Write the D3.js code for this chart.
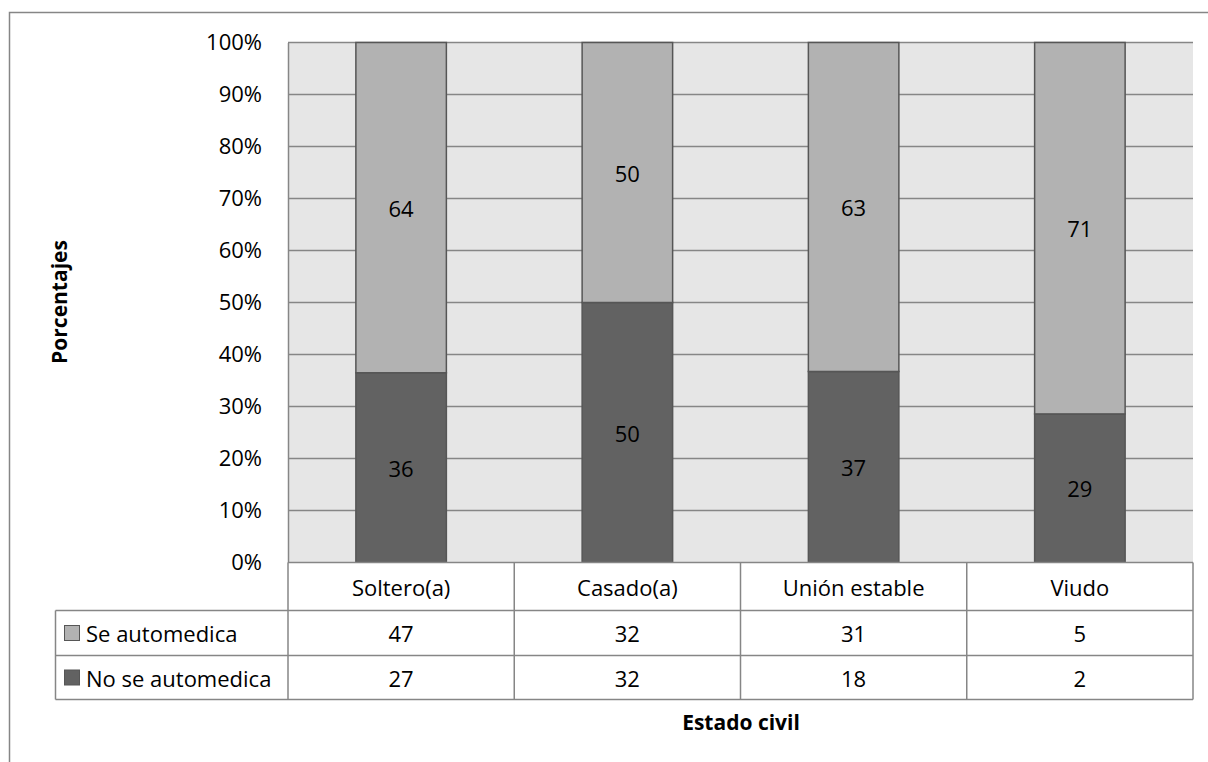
<!DOCTYPE html>
<html>
<head>
<meta charset="utf-8">
<script src="https://cdn.jsdelivr.net/npm/d3@7"></script>
<style>
  html, body { margin: 0; padding: 0; background: #fff; }
  svg { display: block; }
  text { font-family: "Open Sans", "Noto Sans", sans-serif; fill: #000; }
</style>
</head>
<body>
<svg id="chart" width="1208" height="762"></svg>
<script>
const categories = ["Soltero(a)", "Casado(a)", "Unión estable", "Viudo"];
const seriesNames = ["Se automedica", "No se automedica"];
const seAutomedica = [47, 32, 31, 5];
const noSeAutomedica = [27, 32, 18, 2];
const yTicks = [0, 10, 20, 30, 40, 50, 60, 70, 80, 90, 100];
const colors = ["#b2b2b2", "#626262"];

const svg = d3.select("#chart");
const plot = { left: 288, right: 1193, top: 42.5, bottom: 562.5 };
const rowH = [48, 45, 44];
const FS = "22px";

// outer chart border (extends beyond view)
svg.append("rect").attr("x", 9.5).attr("y", 12.5).attr("width", 1300).attr("height", 900)
  .attr("fill", "#fff").attr("stroke", "#868686").attr("stroke-width", 1.5);

const x = d3.scaleBand().domain(categories).range([plot.left, plot.right]).paddingInner(0.6).paddingOuter(0.3);
const xCell = d3.scaleBand().domain(categories).range([plot.left, plot.right]);
const y = d3.scaleLinear().domain([0, 100]).range([plot.bottom, plot.top]);

// plot background
svg.append("rect").attr("x", plot.left).attr("y", plot.top)
  .attr("width", plot.right - plot.left).attr("height", plot.bottom - plot.top)
  .attr("fill", "#e6e6e6");

// gridlines
svg.append("g").selectAll("line").data(yTicks.filter(d => d > 0)).join("line")
  .attr("x1", plot.left).attr("x2", plot.right)
  .attr("y1", d => y(d)).attr("y2", d => y(d))
  .attr("stroke", "#868686").attr("stroke-width", 1.5);

// y axis labels
const yAxis = d3.axisLeft(y).tickValues(yTicks).tickFormat(d => d + "%").tickSize(0).tickPadding(26);
const ya = svg.append("g").attr("transform", `translate(${plot.left},0)`).call(yAxis);
ya.select(".domain").attr("stroke", "#868686").attr("stroke-width", 1.5);
ya.selectAll("text").style("font-family", '"Open Sans", sans-serif').style("font-size", FS).attr("fill", "#000");

// stacked data (percent)
const rows = categories.map((c, i) => {
  const tot = seAutomedica[i] + noSeAutomedica[i];
  return { cat: c, no: noSeAutomedica[i] / tot * 100, se: seAutomedica[i] / tot * 100 };
});
const stack = d3.stack().keys(["no", "se"])(rows);
const keyColor = { no: colors[1], se: colors[0] };

const bars = svg.append("g");
stack.forEach(layer => {
  bars.append("g").selectAll("rect").data(layer).join("rect")
    .attr("x", d => x(d.data.cat))
    .attr("width", x.bandwidth())
    .attr("y", d => y(d[1]))
    .attr("height", d => y(d[0]) - y(d[1]))
    .attr("fill", keyColor[layer.key])
    .attr("stroke", "#565656").attr("stroke-width", 1.5);
  bars.append("g").selectAll("text").data(layer).join("text")
    .attr("x", d => x(d.data.cat) + x.bandwidth() / 2)
    .attr("y", d => (y(d[0]) + y(d[1])) / 2)
    .attr("text-anchor", "middle").attr("dominant-baseline", "central")
    .style("font-size", FS)
    .text(d => Math.round(d[1] - d[0]));
});

// data table
const tableLeft = 55.5;
const y0 = plot.bottom, y1 = y0 + rowH[0], y2 = y1 + rowH[1], y3 = y2 + rowH[2];
const tg = svg.append("g");
const lineC = "#868686";
categories.forEach(c => {
  tg.append("rect").attr("x", xCell(c)).attr("y", y0).attr("width", xCell.bandwidth()).attr("height", y3 - y0)
    .attr("fill", "#fff").attr("stroke", "none");
});
[y0, y1, y2, y3].forEach((yy, i) => {
  tg.append("line").attr("x1", i === 0 ? plot.left : tableLeft).attr("x2", plot.right)
    .attr("y1", yy).attr("y2", yy).attr("stroke", lineC).attr("stroke-width", 1.5);
});
tg.append("line").attr("x1", tableLeft).attr("x2", tableLeft).attr("y1", y1).attr("y2", y3)
  .attr("stroke", lineC).attr("stroke-width", 1.5);
categories.forEach(c => {
  tg.append("line").attr("x1", xCell(c)).attr("x2", xCell(c)).attr("y1", y0).attr("y2", y3)
    .attr("stroke", lineC).attr("stroke-width", 1.5);
});
tg.append("line").attr("x1", plot.right).attr("x2", plot.right).attr("y1", y0).attr("y2", y3)
  .attr("stroke", lineC).attr("stroke-width", 1.5);

// header text
tg.selectAll("text.hdr").data(categories).join("text").attr("class", "hdr")
  .attr("x", d => xCell(d) + xCell.bandwidth() / 2).attr("y", (y0 + y1) / 2)
  .attr("text-anchor", "middle").attr("dominant-baseline", "central")
  .style("font-size", FS).text(d => d);

const tableSeries = [seAutomedica, noSeAutomedica];
tableSeries.forEach((vals, si) => {
  const yc = si === 0 ? (y1 + y2) / 2 : (y2 + y3) / 2;
  tg.append("rect").attr("x", 64.5).attr("y", yc - 7.5).attr("width", 15).attr("height", 15)
    .attr("fill", colors[si]).attr("stroke", "#565656").attr("stroke-width", 1);
  tg.append("text").attr("x", 86).attr("y", yc).attr("dominant-baseline", "central")
    .style("font-size", FS).text(seriesNames[si]);
  tg.selectAll(null).data(vals).join("text")
    .attr("x", (d, i) => xCell(categories[i]) + xCell.bandwidth() / 2).attr("y", yc)
    .attr("text-anchor", "middle").attr("dominant-baseline", "central")
    .style("font-size", FS).text(d => d);
});

// axis titles
svg.append("text").attr("transform", `translate(67,302) rotate(-90)`)
  .attr("text-anchor", "middle").style("font-size", "21px").style("font-weight", "bold").text("Porcentajes");
svg.append("text").attr("x", 741).attr("y", 730)
  .attr("text-anchor", "middle")
  .style("font-size", "21px").style("font-weight", "bold").text("Estado civil");
</script>
</body>
</html>
